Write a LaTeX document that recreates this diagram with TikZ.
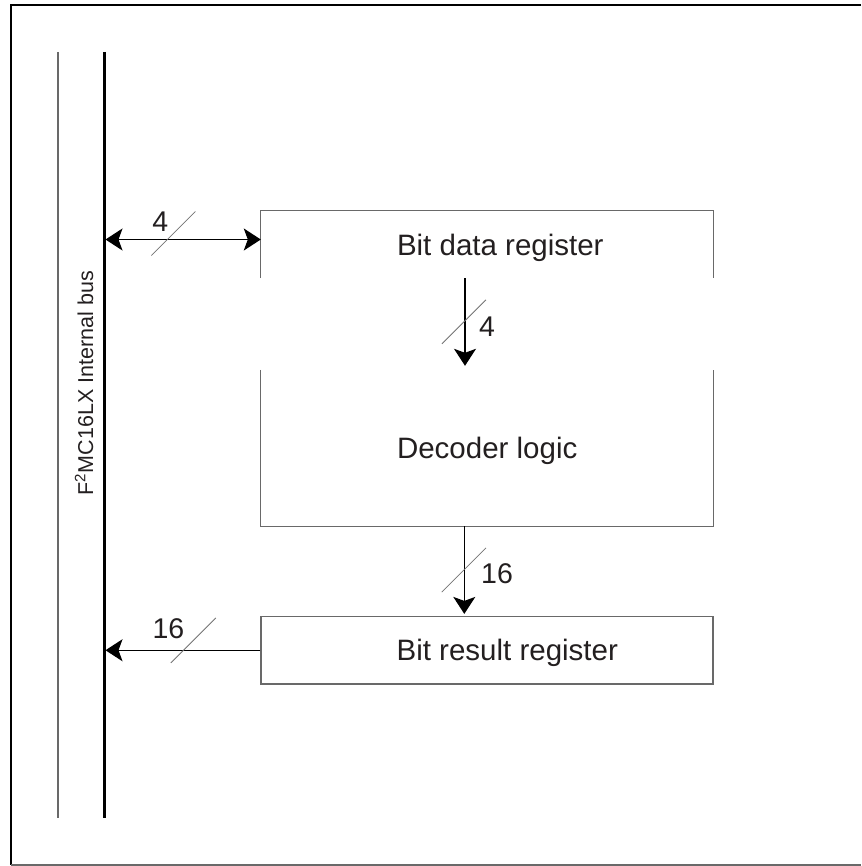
\documentclass[tikz,border=0pt]{standalone}
\usepackage{fontspec}
\setmainfont{Liberation Sans}
\usetikzlibrary{arrows.meta,positioning,calc}
\definecolor{lineGray}{RGB}{105,105,105}
\definecolor{slashGray}{RGB}{115,115,115}
\definecolor{inkBlack}{RGB}{35,31,32}
\tikzset{
  openbox/.style={draw=none, minimum width=452pt, inner sep=0pt},
  regbox/.style={draw=lineGray, line width=1.2pt, minimum width=452pt, inner sep=0pt},
  boxline/.style={draw=lineGray, line width=1.2pt},
  boxtext/.style={font=\fontsize{29.5}{34}\selectfont, text=inkBlack, inner sep=0pt},
  numlabel/.style={font=\fontsize{28.5}{32}\selectfont, text=inkBlack, inner sep=0pt},
  buslabel/.style={font=\fontsize{21.5}{25}\selectfont, text=inkBlack, inner sep=0pt},
  sig/.style={line width=1.3pt, -{Stealth[length=17pt,width=22pt,inset=4pt]}},
  sigboth/.style={line width=1.3pt, {Stealth[length=17pt,width=22pt,inset=4pt]}-{Stealth[length=17pt,width=22pt,inset=4pt]}},
  slash/.style={draw=slashGray, line width=0.8pt},
  busline/.style={line width=3pt},
  pageframe/.style={line width=2pt}
}

\begin{document}
\begin{tikzpicture}[x=1pt, y=-1pt]
  \useasboundingbox (0,0) rectangle (861,866);
  \draw[pageframe] (861,5) -- (11,5) -- (11,865);
  \draw[pageframe, lineGray] (11,865) -- (861,865);

  % internal bus
  \coordinate (busLtop) at (58,52);
  \coordinate (busLbot) at (58,818);
  \coordinate (busRtop) at (104,52);
  \coordinate (busRbot) at (104,818);
  \draw[line width=1.5pt, lineGray] (busLtop) -- (busLbot);
  \draw[busline] (busRtop) -- (busRbot);
  \node[buslabel, rotate=90, anchor=base east] (busname) at (93,271) {F\textsuperscript{2}MC16LX Internal bus};

  % blocks
  \node[openbox, minimum height=67pt] (data) at (487,244.5) {};
  \draw[boxline] (data.south west) -- (data.north west) -- (data.north east) -- (data.south east);
  \node[openbox, minimum height=156pt] (dec) at (487,448) {};
  \draw[boxline] (dec.north west) -- (dec.south west) -- (dec.south east) -- (dec.north east);
  \node[regbox, minimum height=67.5pt] (res) at (487,650.25) {};

  \node[boxtext, anchor=base west] (dataText) at ([xshift=136pt,yshift=-10.5pt]data.west) {Bit data register};
  \node[boxtext, anchor=base west] (decText) at ([xshift=136pt,yshift=-10.5pt]dec.west) {Decoder logic};
  \node[boxtext, anchor=base west] (resText) at ([xshift=136pt,yshift=-10.5pt]res.west) {Bit result register};

  % connections
  \coordinate (dataIn) at ([yshift=5pt]data.west);
  \draw[sigboth, shorten <=1.5pt] (dataIn -| busRtop) -- coordinate[pos=0.404] (cut1) (dataIn);
  \draw[sig, shorten >=4pt] ([xshift=-22pt]data.south) -- coordinate[pos=0.465] (cut2) ([xshift=-22pt]dec.north);
  \draw[sig, shorten >=2pt] ([xshift=-22.7pt]dec.south) -- coordinate[pos=0.483] (cut3) ([xshift=-22.7pt]res.north);
  \draw[sig, shorten >=1.5pt] (res.west) -- coordinate[pos=0.492] (cut4) (res.west -| busRtop);

  \draw[slash] (cut1) +(-16pt,-16pt) -- +(28pt,28pt);
  \draw[slash] (cut2) +(-23pt,-23pt) -- +(21pt,21pt);
  \draw[slash] (cut3) +(-22.6pt,-22.6pt) -- +(21.7pt,21.7pt);
  \draw[slash] (cut4) +(-12.7pt,-12.7pt) -- +(32.3pt,32.3pt);

  \node[numlabel] (w1) at ([xshift=-7pt,yshift=17.6pt]cut1) {4};
  \node[numlabel] (w2) at ([xshift=22pt,yshift=-6.2pt]cut2) {4};
  \node[numlabel] (w3) at ([xshift=32.7pt,yshift=-4.3pt]cut3) {16};
  \node[numlabel] (w4) at ([xshift=-15pt,yshift=22pt]cut4) {16};
\end{tikzpicture}
\end{document}
